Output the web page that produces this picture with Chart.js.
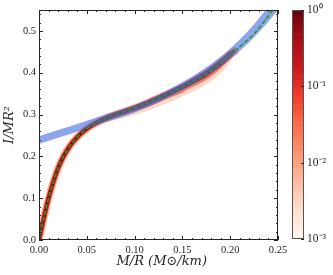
<!DOCTYPE html>
<html>
<head>
<meta charset="utf-8">
<script src="https://cdn.jsdelivr.net/npm/chart.js@4.4.1/dist/chart.umd.min.js"></script>
<style>
  html, body { margin: 0; padding: 0; background: #fff; }
  #wrap { position: relative; width: 333px; height: 275px; }
  #main { position: absolute; left: 0; top: 0; }
  #cbar { position: absolute; left: 270px; top: 0; }
</style>
</head>
<body>
<div id="wrap">
  <canvas id="main" width="333" height="275"></canvas>
  <canvas id="cbar" width="63" height="275"></canvas>
</div>
<script>
// tick labels
const xTickVals = [0, 0.05, 0.10, 0.15, 0.20, 0.25];
const yTickVals = [0, 0.1, 0.2, 0.3, 0.4, 0.5];
const cbarTickVals = [1, 0.1, 0.01, 0.001];
const cbarTickLabels = ['10\u2070', '10\u207B\u00B9', '10\u207B\u00B2', '10\u207B\u00B3'];

// density ridge (red): centre line and spread edges
const redX    = [0, 0.005, 0.01, 0.015, 0.02, 0.025, 0.03, 0.035, 0.04, 0.045, 0.05, 0.06, 0.07, 0.08, 0.09, 0.10, 0.11, 0.125, 0.14, 0.15, 0.16, 0.175, 0.19, 0.20, 0.205];
const redCore = [0, 0.052, 0.100, 0.139, 0.172, 0.197, 0.217, 0.233, 0.246, 0.257, 0.266, 0.280, 0.291, 0.300, 0.308, 0.316, 0.325, 0.340, 0.355, 0.366, 0.378, 0.397, 0.423, 0.443, 0.452];
const redHi1  = [0, 0.052, 0.100, 0.139, 0.172, 0.197, 0.217, 0.233, 0.246, 0.257, 0.266, 0.283, 0.294, 0.302, 0.310, 0.318, 0.328, 0.342, 0.359, 0.371, 0.385, 0.406, 0.432, 0.451, 0.456];
const redHi2  = [0, 0.052, 0.100, 0.139, 0.172, 0.197, 0.217, 0.233, 0.246, 0.257, 0.266, 0.285, 0.296, 0.304, 0.312, 0.320, 0.330, 0.344, 0.361, 0.373, 0.387, 0.408, 0.434, 0.453, 0.458];
const redHi3  = [0, 0.052, 0.100, 0.139, 0.172, 0.197, 0.217, 0.233, 0.246, 0.257, 0.266, 0.286, 0.297, 0.305, 0.313, 0.321, 0.331, 0.345, 0.362, 0.374, 0.388, 0.409, 0.435, 0.454, 0.459];
const redLo1  = [0, 0.052, 0.100, 0.139, 0.172, 0.197, 0.217, 0.233, 0.246, 0.257, 0.266, 0.279, 0.289, 0.297, 0.304, 0.312, 0.320, 0.335, 0.349, 0.360, 0.372, 0.390, 0.417, 0.438, 0.449];
const redLo2  = [0, 0.052, 0.100, 0.139, 0.172, 0.197, 0.217, 0.233, 0.246, 0.257, 0.266, 0.277, 0.286, 0.293, 0.300, 0.307, 0.315, 0.329, 0.343, 0.353, 0.365, 0.383, 0.410, 0.433, 0.447];
const redLo3  = [0, 0.052, 0.100, 0.139, 0.172, 0.197, 0.217, 0.233, 0.246, 0.257, 0.266, 0.274, 0.281, 0.287, 0.293, 0.299, 0.306, 0.319, 0.333, 0.343, 0.354, 0.372, 0.399, 0.425, 0.444];

// fit (green dashed)
const fitX = [0, 0.005, 0.01, 0.015, 0.02, 0.025, 0.03, 0.035, 0.04, 0.045, 0.05, 0.06, 0.07, 0.08, 0.09, 0.10, 0.11, 0.125, 0.14, 0.15, 0.16, 0.175, 0.19, 0.20, 0.215, 0.225, 0.235, 0.245, 0.255];
const fitY = [0, 0.052, 0.100, 0.139, 0.172, 0.197, 0.217, 0.233, 0.246, 0.257, 0.266, 0.280, 0.291, 0.300, 0.308, 0.316, 0.325, 0.340, 0.355, 0.366, 0.378, 0.397, 0.423, 0.443, 0.472, 0.493, 0.521, 0.552, 0.585];

// blue band
const bandX  = [0, 0.025, 0.05, 0.075, 0.10, 0.125, 0.15, 0.175, 0.20, 0.225, 0.25, 0.26];
const bandHi = [0.248, 0.2665, 0.285, 0.304, 0.323, 0.347, 0.377, 0.413, 0.458, 0.516, 0.590, 0.625];
const bandLo = [0.2295, 0.248, 0.2665, 0.2855, 0.305, 0.329, 0.358, 0.391, 0.433, 0.485, 0.550, 0.580];

const pts = (xs, ys, n) => xs.slice(0, n || xs.length).map((x, i) => ({ x: x, y: ys[i] }));

const TICK_FONT = { family: 'Liberation Serif', size: 10.5 };
const TITLE_FONT = { family: 'DejaVu Serif', size: 13, style: 'italic' };

// order: lower number is drawn on top
function edge(data, order) {
  return { data: data, order: order, borderColor: 'transparent', borderWidth: 0, pointRadius: 0, fill: false,
           cubicInterpolationMode: 'monotone', clip: 0 };
}
function layer(data, color, order) {
  return { data: data, order: order, borderColor: 'transparent', borderWidth: 0, pointRadius: 0, fill: '+1',
           backgroundColor: color, cubicInterpolationMode: 'monotone', clip: 0 };
}
function line(data, color, width, order, dash) {
  return { data: data, order: order, borderColor: color, borderWidth: width, borderDash: dash || [], pointRadius: 0,
           fill: false, cubicInterpolationMode: 'monotone', clip: 0, borderCapStyle: 'round' };
}

// inward ticks on all four sides, matplotlib style
const frameTicks = {
  id: 'frameTicks',
  afterDatasetsDraw(chart) {
    const { ctx, chartArea: a, scales: { x, y } } = chart;
    ctx.save();
    ctx.strokeStyle = '#262626';
    ctx.lineWidth = 1;
    ctx.beginPath();
    for (let i = 0; i <= 25; i++) {
      const px = Math.round(x.getPixelForValue(i / 100)) + 0.5;
      const len = i % 5 === 0 ? 4 : 2;
      ctx.moveTo(px, a.bottom); ctx.lineTo(px, a.bottom - len);
      ctx.moveTo(px, a.top); ctx.lineTo(px, a.top + len);
    }
    for (let i = 0; i <= 27; i++) {
      const py = Math.round(y.getPixelForValue(i * 0.02)) + 0.5;
      const len = i % 5 === 0 ? 4 : 2;
      ctx.moveTo(a.left, py); ctx.lineTo(a.left + len, py);
      ctx.moveTo(a.right, py); ctx.lineTo(a.right - len, py);
    }
    ctx.stroke();
    ctx.strokeRect(a.left + 0.5, a.top + 0.5, a.right - a.left - 1, a.bottom - a.top - 1);
    ctx.restore();
  }
};

new Chart(document.getElementById('main'), {
  type: 'line',
  data: {
    datasets: [
      line(pts(fitX, fitY), '#2a9a2a', 1.6, 0, [3.5, 3]),
      layer(pts(bandX, bandHi), 'rgba(65,105,225,0.6)', 1),
      edge(pts(bandX, bandLo), 1),
      line(pts(redX, redCore, 23), '#7a0810', 2.6, 2),
      layer(pts(redX, redHi1), '#c8251f', 3),
      edge(pts(redX, redLo1), 3),
      line(pts(redX, redCore, 24), '#d92620', 4.8, 4),
      layer(pts(redX, redHi2), '#f87a5d', 5),
      edge(pts(redX, redLo2), 5),
      line(pts(redX, redCore), '#fcb49a', 7.5, 6),
      layer(pts(redX, redHi3), '#fdd8c8', 7),
      edge(pts(redX, redLo3), 7)
    ]
  },
  options: {
    responsive: false,
    animation: false,
    devicePixelRatio: 1,
    layout: { padding: { top: 10, right: 55, left: 0, bottom: 0 } },
    plugins: { legend: { display: false }, tooltip: { enabled: false },
               filler: { drawTime: 'beforeDatasetDraw' } },
    scales: {
      x: {
        type: 'linear', min: 0, max: 0.25,
        grid: { display: false, drawTicks: false },
        border: { display: false },
        afterBuildTicks: s => { s.ticks = xTickVals.map(v => ({ value: v })); },
        afterFit: s => { s.height = 35; },
        ticks: { font: TICK_FONT, color: '#262626', padding: 4, maxRotation: 0,
                 callback: v => v.toFixed(2) },
        title: { display: true, text: '\u2002M/R (M\u2299/km)', font: TITLE_FONT, color: '#262626',
                 padding: { top: 0, bottom: 6 } }
      },
      y: {
        type: 'linear', min: 0, max: 0.55,
        grid: { display: false, drawTicks: false },
        border: { display: false },
        afterBuildTicks: s => { s.ticks = yTickVals.map(v => ({ value: v })); },
        afterFit: s => { s.width = 39; },
        ticks: { font: TICK_FONT, color: '#262626', padding: 3,
                 callback: v => v.toFixed(1) },
        title: { display: true, text: 'I/MR\u00B2', font: TITLE_FONT, color: '#262626',
                 padding: { top: 2, bottom: 0 } }
      }
    }
  },
  plugins: [frameTicks]
});

// colour bar (Reds, discrete levels on a log axis)
const redsStops = ['#fff5f0', '#fee0d2', '#fcbba1', '#fc9272', '#fb6a4a', '#ef3b2c', '#cb181d', '#a50f15', '#67000d'];
function reds(t) {
  const p = t * (redsStops.length - 1);
  const i = Math.min(Math.floor(p), redsStops.length - 2);
  const f = p - i;
  const a = redsStops[i], b = redsStops[i + 1];
  const c = k => Math.round(parseInt(a.substr(k, 2), 16) * (1 - f) + parseInt(b.substr(k, 2), 16) * f);
  return 'rgb(' + c(1) + ',' + c(3) + ',' + c(5) + ')';
}
const nLevels = 39;
const cbarSets = [];
for (let i = 0; i < nLevels; i++) {
  const lo = Math.pow(10, -3 + 3 * i / nLevels);
  const hi = Math.pow(10, -3 + 3 * (i + 1) / nLevels);
  cbarSets.push({ data: [[lo, hi]], backgroundColor: reds((i + 0.5) / nLevels), borderWidth: 0,
                  grouped: false, barPercentage: 1, categoryPercentage: 1 });
}

const cbarFrame = {
  id: 'cbarFrame',
  afterDatasetsDraw(chart) {
    const { ctx, chartArea: a, scales: { y } } = chart;
    ctx.save();
    ctx.strokeStyle = '#555';
    ctx.lineWidth = 1;
    ctx.strokeRect(a.left + 0.5, a.top + 0.5, a.right - a.left - 1, a.bottom - a.top - 1);
    ctx.strokeStyle = '#262626';
    ctx.beginPath();
    cbarTickVals.forEach(v => {
      const py = Math.round(y.getPixelForValue(v)) + 0.5;
      ctx.moveTo(a.right, py); ctx.lineTo(a.right - 3, py);
    });
    ctx.stroke();
    ctx.restore();
  }
};

new Chart(document.getElementById('cbar'), {
  type: 'bar',
  data: { labels: [''], datasets: cbarSets },
  options: {
    responsive: false,
    animation: false,
    devicePixelRatio: 1,
    layout: { padding: { left: 22, top: 10, bottom: 36, right: 0 } },
    plugins: { legend: { display: false }, tooltip: { enabled: false } },
    scales: {
      x: { display: false },
      y: {
        type: 'logarithmic', position: 'right', min: 0.001, max: 1,
        grid: { display: false, drawTicks: false },
        border: { display: false },
        afterBuildTicks: s => { s.ticks = cbarTickVals.map(v => ({ value: v })); },
        afterFit: s => { s.width = 29; },
        ticks: { font: { family: 'Liberation Serif', size: 11.5 }, color: '#262626', padding: 3,
                 callback: (v, i) => cbarTickLabels[i] }
      }
    }
  },
  plugins: [cbarFrame]
});
</script>
</body>
</html>
